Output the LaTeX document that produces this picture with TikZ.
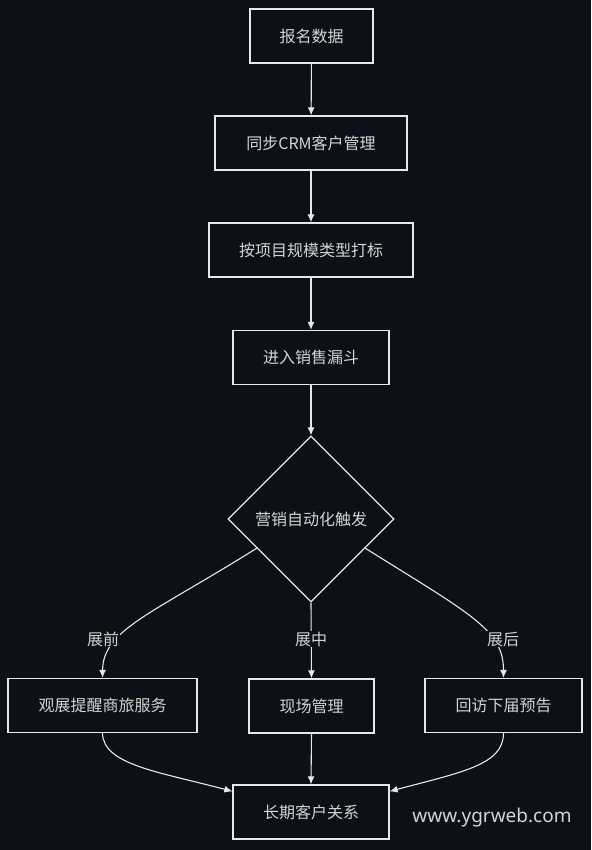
\documentclass[tikz,border=0pt]{standalone}
\usepackage{fontspec}
\setmainfont{Noto Sans CJK SC}
\newfontfamily\wmfont{Noto Sans}
\usetikzlibrary{shapes.geometric,arrows.meta,calc}
\definecolor{bg}{HTML}{0D1017}
\definecolor{ln}{HTML}{E8E8E8}
\definecolor{tx}{HTML}{D4D4D4}
\newcommand\roughbox[1]{\draw[ln,line width=0.6pt,opacity=0.75] ($(#1.north west)+(1.2,0.9)$) rectangle ($(#1.south east)+(-0.9,-0.7)$);}
\begin{document}
\begin{tikzpicture}[x=1pt,y=-1pt,
  box/.style={draw=ln,line width=1.3pt,fill=bg,text=tx,font=\fontsize{16}{18}\selectfont,inner sep=0pt,minimum height=54pt},
  dia/.style={diamond,draw=ln,line width=1.3pt,fill=bg,text=tx,font=\fontsize{16}{18}\selectfont,inner sep=0pt,minimum width=166pt,minimum height=166pt},
  lbl/.style={fill=bg,text=tx,font=\fontsize{16}{18}\selectfont,inner sep=1pt},
  arr/.style={draw=ln,line width=1.1pt,-{Latex[length=8pt,width=7pt]}}]
\fill[bg] (0,0) rectangle (591,850);
\node[box,minimum width=123pt] (a) at (311.5,36) {报名数据};
\node[box,minimum width=192pt] (b) at (311,143) {同步CRM客户管理};
\node[box,minimum width=204pt] (c) at (311,250) {按项目规模类型打标};
\node[box,minimum width=156pt] (d) at (311,357.5) {进入销售漏斗};
\node[dia] (e) at (311,519) {营销自动化触发};
\node[box,minimum width=189pt] (f) at (102.5,705.5) {观展提醒商旅服务};
\node[box,minimum width=125pt] (g) at (311.5,706) {现场管理};
\node[box,minimum width=157pt] (h) at (503.5,705.5) {回访下届预告};
\node[box,minimum width=156pt] (i) at (311,812) {长期客户关系};
\foreach \n in {a,b,c,d,f,g,h,i}{\roughbox{\n}}
\draw[arr] (a) -- (b);
\draw[arr] (b) -- (c);
\draw[arr] (c) -- (d);
\draw[arr] (d) -- (e);
\coordinate (eL) at ($(e.west)!0.35!(e.south)$);
\coordinate (eR) at ($(e.east)!0.35!(e.south)$);
\draw[arr] (eL) .. controls (150,615) and (103,630) .. (f.north);
\draw[arr] (e.south) -- (g.north);
\draw[arr] (eR) .. controls (472,615) and (503.5,630) .. (h.north);
\draw[arr] (f.south) .. controls (103,765) and (160,772) .. ($(i.north west)+(0,7)$);
\draw[arr] (g.south) -- (i.north);
\draw[arr] (h.south) .. controls (503.5,765) and (462,772) .. ($(i.north east)+(0,7)$);
\node[lbl] (l1) at (103,639) {展前};
\node[lbl] (l2) at (311,639) {展中};
\node[lbl] (l3) at (503,639) {展后};
\node[text=tx,font=\wmfont\fontsize{19}{22}\selectfont,inner sep=0pt] (wm) at (492,818) {www.ygrweb.com};
\end{tikzpicture}
\end{document}
